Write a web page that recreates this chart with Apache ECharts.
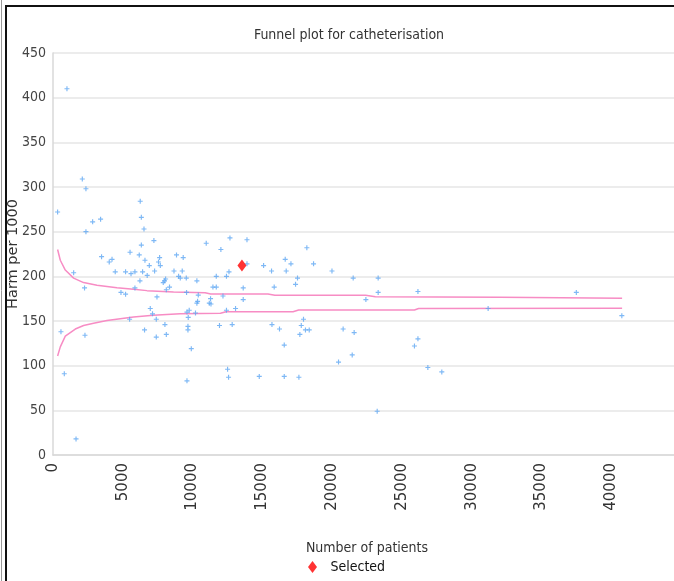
<!DOCTYPE html>
<html>
<head>
<meta charset="utf-8">
<script src="https://cdn.jsdelivr.net/npm/echarts@6/dist/echarts.min.js"></script>
<style>
html,body{margin:0;padding:0;background:#fff;}
#c{width:674px;height:581px;}
</style>
</head>
<body>
<div id="c"></div>
<script>
const titleText = 'Funnel plot for catheterisation';
const xName = 'Number of patients';
const yName = 'Harm per 1000';
const xTicks = [0,5000,10000,15000,20000,25000,30000,35000,40000];
const yTicks = [0,50,100,150,200,250,300,350,400,450];

// [patients, harm per 1000]
const trusts = [
 [330,272],[1000,410],[2100,309],[2360,298],[2840,261],[3410,264],[2360,250],[3480,222],
 [1480,204],[2260,187],[4030,216],[4230,219],[4460,205],[4870,182],[5200,180],[5200,205],
 [5590,203],[5870,205],[5520,227],[6250,284],[6330,266],[6520,253],[6330,235],[6180,224],
 [6590,218],[6900,212],[6420,205],[6750,201],[7230,240],[7640,221],[7560,216],[7690,212],
 [7280,206],[5870,187],[6230,195],[7900,193],[7990,195],[8070,197],[8350,188],[8120,185],
 [8670,206],[8850,224],[9330,221],[9260,206],[9000,200],[9120,198],[9550,198],[10310,195],
 [9570,182],[7450,177],[6970,164],[7130,158],[7400,152],[5490,152],[9600,160],[9760,162],
 [10210,159],[570,138],[2290,134],[810,91],[1650,18],[6560,140],[7400,132],[8020,146],
 [8120,135],[9670,144],[9670,140],[9910,119],[9600,83],[10980,237],[12680,243],[13900,241],
 [12030,230],[13900,214],[15090,212],[15660,206],[16640,219],[17050,214],[16710,206],[18190,232],
 [18670,214],[19990,206],[17520,198],[17380,191],[21510,198],[11700,200],[12430,200],[12610,205],
 [11460,188],[11700,188],[13630,187],[15850,188],[10410,179],[10360,172],[10310,170],[11290,175],
 [11200,170],[11320,169],[12180,178],[13630,174],[9690,154],[12430,162],[13080,164],[17950,152],
 [11930,145],[12840,146],[12510,96],[12580,87],[14780,88],[15690,146],[16230,141],[17790,145],
 [17690,135],[18090,140],[18360,140],[16570,123],[16570,88],[17620,87],[20790,141],[21580,137],
 [20460,104],[21440,112],[23300,198],[23300,182],[22420,174],[26150,183],[31180,164],[37500,182],
 [40760,156],[26150,130],[25900,122],[26860,98],[27860,93],[23230,49]
];
const selected = [[13540,212]];
const upperLimit = [
 [330,230],[523,218],[881,207],[1476,198],[2192,193],[3152,190],[4584,187.3],[5773,185.5],
 [6733,184],[8639,182.5],[10900,181.7],[11300,180.2],[15400,180.2],[15900,178.8],[22400,178.8],
 [23100,177.2],[32000,176.5],[40780,175.4]
];
const lowerLimit = [
 [330,110.8],[523,121],[881,133],[1597,141],[2192,145],[2908,147.5],[3868,150.5],[5773,154.5],
 [7184,156.5],[9118,158],[12000,158.6],[12400,160.4],[17200,160.4],[17600,162.3],[25900,162.3],
 [26200,164],[40780,164.2]
];

const chart = echarts.init(document.getElementById('c'));
const gridColor = '#e6e6e6';
const plus = 'path://M2,0H3.2V5.2H2Z M0,2H5.2V3.2H0Z';
chart.setOption({
  animation: false,
  backgroundColor: '#fff',
  title: {
    text: titleText, left: 344, top: 23, textAlign: 'center',
    textStyle: {fontFamily: 'DejaVu Sans Condensed, DejaVu Sans', fontSize: 14, fontWeight: 'normal', color: '#333'}
  },
  legend: {
    data: [{name: 'Selected', icon: 'path://M4.5,0L9,6L4.5,12L0,6Z'}],
    left: 303, bottom: 2, itemWidth: 26, itemHeight: 12, itemGap: 10,
    textStyle: {fontFamily: 'DejaVu Sans Condensed, DejaVu Sans', fontSize: 14, color: '#111'}
  },
  grid: {left: 53, right: -7, top: 53, bottom: 126, containLabel: false, outerBoundsMode: 'none'},
  xAxis: {
    type: 'value', min: 0, max: 45000, interval: 5000,
    name: xName, nameLocation: 'middle', nameGap: 86, nameMoveOverlap: false,
    nameTextStyle: {fontFamily: 'DejaVu Sans Condensed, DejaVu Sans', fontSize: 14, color: '#333'},
    axisLine: {show: true, lineStyle: {color: '#d8d8d8', width: 1.5}},
    axisTick: {show: false},
    axisLabel: {rotate: 90, margin: 8, showMaxLabel: false, formatter: v => String(v),
      fontFamily: 'DejaVu Sans', fontSize: 15, color: '#333'},
    splitLine: {show: false}
  },
  yAxis: {
    type: 'value', min: 0, max: 450, interval: 50,
    name: yName, nameLocation: 'middle', nameGap: 32, nameMoveOverlap: false,
    nameTextStyle: {fontFamily: 'DejaVu Sans', fontSize: 14.5, color: '#333'},
    axisLine: {show: true, lineStyle: {color: '#d8d8d8', width: 1.5}},
    axisTick: {show: false},
    axisLabel: {margin: 7, formatter: v => String(v), fontFamily: 'DejaVu Sans Condensed, DejaVu Sans', fontSize: 14, color: '#444'},
    splitLine: {show: true, lineStyle: {color: gridColor, width: 1.5}}
  },
  series: [
    {name: 'Upper', type: 'line', data: upperLimit, showSymbol: false, symbol: 'none',
     lineStyle: {color: '#f78cc4', width: 1.5}, z: 2},
    {name: 'Lower', type: 'line', data: lowerLimit, showSymbol: false, symbol: 'none',
     lineStyle: {color: '#f78cc4', width: 1.5}, z: 2},
    {name: 'Trusts', type: 'scatter', data: trusts, symbol: plus, symbolSize: 5,
     itemStyle: {color: '#5ea6f2'}, z: 3},
    {name: 'Selected', type: 'scatter', data: selected, symbol: 'diamond', symbolSize: [9, 12],
     itemStyle: {color: '#ff0000'}, z: 4}
  ],
  graphic: [
    {type: 'line', shape: {x1: 1.5, y1: 0, x2: 1.5, y2: 581}, style: {stroke: '#999', lineWidth: 1}},
    {type: 'rect', shape: {x: 6, y: 6, width: 720, height: 700}, style: {fill: null, stroke: '#111', lineWidth: 2}, silent: true}
  ]
});
</script>
</body>
</html>
